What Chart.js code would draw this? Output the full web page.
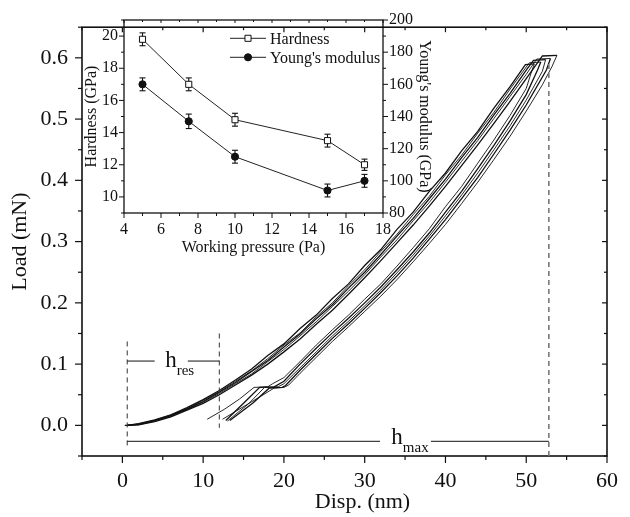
<!DOCTYPE html>
<html>
<head>
<meta charset="utf-8">
<script src="https://cdn.jsdelivr.net/npm/chart.js@4.4.0/dist/chart.umd.min.js"></script>
<style>
  html, body { margin: 0; padding: 0; background: #fff; }
  #wrap { position: relative; width: 630px; height: 517px; }
  #main { position: absolute; left: 0; top: 0; }
  #inset { position: absolute; left: 80px; top: 0; }
</style>
</head>
<body>
<div id="wrap">
  <canvas id="main" width="630" height="517"></canvas>
  <canvas id="inset" width="360" height="262"></canvas>
</div>
<script>
// Loading curves, [disp (nm), load (mN)]
var load1 = [[0.3,0],[0.6,0],[2,0.003],[4,0.009],[6,0.017],[8,0.029],[10,0.042],[12,0.057],[14,0.074],[16,0.092],[18,0.114],[20,0.133],[22,0.158],[24,0.180],[26,0.207],[28,0.231],[30,0.261],[32,0.287],[34,0.320],[36,0.348],[38,0.382],[40,0.412],[42,0.448],[44,0.480],[46,0.518],[48,0.553],[49.9,0.589],[51.0,0.590]];
var load2 = [[0.6,0],[2,0.002],[4,0.008],[6,0.017],[8,0.027],[10,0.041],[12,0.055],[14,0.072],[16,0.089],[18,0.109],[20,0.131],[22,0.151],[24,0.177],[26,0.200],[28,0.228],[30,0.254],[32,0.284],[34,0.312],[36,0.344],[38,0.374],[40,0.409],[42,0.441],[44,0.477],[46,0.511],[48,0.549],[50,0.585],[50.4,0.592],[51.8,0.593]];
var load3 = [[0.6,0],[2,0.002],[4,0.008],[6,0.016],[8,0.027],[10,0.039],[12,0.054],[14,0.070],[16,0.088],[18,0.106],[20,0.128],[22,0.149],[24,0.174],[26,0.197],[28,0.224],[30,0.250],[32,0.279],[34,0.309],[36,0.338],[38,0.370],[40,0.402],[42,0.437],[44,0.470],[46,0.507],[48,0.542],[50,0.580],[50.9,0.596],[52.4,0.597]];
var load4 = [[0.6,0],[2,0.001],[4,0.007],[6,0.015],[8,0.026],[10,0.038],[12,0.052],[14,0.068],[16,0.084],[18,0.104],[20,0.124],[22,0.146],[24,0.169],[26,0.194],[28,0.219],[30,0.246],[32,0.275],[34,0.303],[36,0.334],[38,0.364],[40,0.397],[42,0.431],[44,0.465],[46,0.501],[48,0.537],[50,0.573],[51.3,0.598],[53.0,0.599]];
var load5 = [[0.6,0],[2,0.001],[4,0.006],[6,0.014],[8,0.025],[10,0.036],[12,0.050],[14,0.066],[16,0.082],[18,0.100],[20,0.120],[22,0.141],[24,0.165],[26,0.188],[28,0.214],[30,0.241],[32,0.269],[34,0.298],[36,0.327],[38,0.358],[40,0.390],[42,0.424],[44,0.458],[46,0.493],[48,0.529],[50,0.566],[52,0.603],[53.8,0.604]];

// Unloading curves with the hold near 10 % load
var unload1 = [[51.0,0.590],[50.6,0.575],[50,0.550],[48,0.506],[46,0.466],[44,0.428],[42,0.390],[40,0.357],[38,0.321],[36,0.290],[34,0.260],[32,0.231],[30,0.206],[28,0.180],[26,0.156],[24,0.131],[22,0.104],[20,0.078],[18.6,0.068],[18.0,0.063],[16.3,0.062],[14.5,0.043],[12.6,0.026],[10.5,0.010]];
var unload2 = [[51.8,0.593],[51.4,0.580],[50,0.540],[48,0.497],[46,0.457],[44,0.419],[42,0.382],[40,0.348],[38,0.314],[36,0.283],[34,0.254],[32,0.226],[30,0.200],[28,0.175],[26,0.151],[24,0.126],[22,0.100],[20,0.072],[18.8,0.063],[17.0,0.062],[15.0,0.036],[12.8,0.008]];
var unload3 = [[52.4,0.597],[52,0.578],[50,0.531],[48,0.489],[46,0.450],[44,0.412],[42,0.376],[40,0.342],[38,0.309],[36,0.278],[34,0.249],[32,0.221],[30,0.195],[28,0.170],[26,0.146],[24,0.120],[22,0.094],[20,0.068],[19.3,0.063],[17.6,0.062],[15.6,0.035],[13.0,0.007]];
var unload4 = [[53.0,0.599],[52.5,0.580],[50,0.523],[48,0.482],[46,0.443],[44,0.405],[42,0.370],[40,0.336],[38,0.304],[36,0.273],[34,0.244],[32,0.217],[30,0.191],[28,0.166],[26,0.142],[24,0.116],[22,0.090],[20.2,0.065],[19.8,0.062],[18.2,0.061],[16.2,0.037],[13.3,0.008]];
var unload5 = [[53.8,0.604],[53.2,0.586],[52,0.556],[50,0.513],[48,0.472],[46,0.434],[44,0.397],[42,0.362],[40,0.328],[38,0.297],[36,0.267],[34,0.238],[32,0.211],[30,0.186],[28,0.161],[26,0.137],[24,0.111],[22,0.085],[20.6,0.066],[20.0,0.062],[18.8,0.061],[17.2,0.048],[12.4,0.010]];

// Depth markers (nm) and the load level of each bracket (mN)
var hResLimits = [0.6, 12.0];
var hMaxLimits = [0.6, 52.8];
var hResLevel = 0.105;
var hMaxLevel = -0.026;

// Main tick labels
var mainXLabels = [0, 10, 20, 30, 40, 50, 60];
var mainYLabels = [0.0, 0.1, 0.2, 0.3, 0.4, 0.5, 0.6];

// Inset data
var pressure = [5, 7.5, 10, 15, 17];
var hardness = [19.8, 17.0, 14.8, 13.5, 12.0];
var hardnessErr = [0.4, 0.4, 0.4, 0.4, 0.35];
var modulus = [160, 137, 115, 94, 100];
var modulusErr = [4, 4.5, 4, 4, 4];

// Inset tick labels
var insetXLabels = [4, 6, 8, 10, 12, 14, 16, 18];
var insetYLabels = [10, 12, 14, 16, 18, 20];
var insetY2Labels = [80, 100, 120, 140, 160, 180, 200];

var SERIF = "'Liberation Serif', 'Times New Roman', serif";
var INK = '#111';
Chart.defaults.font.family = SERIF;
Chart.defaults.color = INK;

function isLabelled(list, v) {
    return list.some(function(l) { return Math.abs(l - v) < 1e-6; });
}

function toPoints(arr) {
    return arr.map(function(p) { return {x: p[0], y: p[1]}; });
}

/**
 * Draw tick marks of a scale along one edge.
 * dx/dy give the direction the marks point to.
 */
function drawTicks(ctx, scale, list, edge, dx, dy, major, minor) {
    var horizontal = scale.isHorizontal();
    scale.ticks.forEach(function(t) {
        var len = isLabelled(list, t.value) ? major : minor;
        var p = scale.getPixelForValue(t.value);
        ctx.beginPath();
        if (horizontal) {
            ctx.moveTo(p, edge);
            ctx.lineTo(p, edge + dy * len);
        } else {
            ctx.moveTo(edge, p);
            ctx.lineTo(edge + dx * len, p);
        }
        ctx.stroke();
    });
}

function line(ctx, x1, y1, x2, y2) {
    ctx.beginPath();
    ctx.moveTo(x1, y1);
    ctx.lineTo(x2, y2);
    ctx.stroke();
}

function subLabel(ctx, x, y, main, sub) {
    ctx.font = '23px ' + SERIF;
    ctx.textAlign = 'left';
    ctx.textBaseline = 'alphabetic';
    ctx.fillText(main, x, y);
    var w = ctx.measureText(main).width;
    ctx.font = '15px ' + SERIF;
    ctx.fillText(sub, x + w, y + 8);
}

var mainDecor = {
    id: 'mainDecor',
    afterDraw: function(chart) {
        var ctx = chart.ctx;
        var a = chart.chartArea;
        var xs = chart.scales.x;
        var ys = chart.scales.y;
        var px = function(v) { return xs.getPixelForValue(v); };
        var py = function(v) { return ys.getPixelForValue(v); };
        ctx.save();
        ctx.strokeStyle = INK;
        ctx.fillStyle = INK;

        // Frame and ticks
        ctx.lineWidth = 1.6;
        ctx.strokeRect(a.left, a.top, a.right - a.left, a.bottom - a.top);
        ctx.lineWidth = 1.2;
        drawTicks(ctx, xs, mainXLabels, a.bottom, 0, 1, 7, 4);
        drawTicks(ctx, xs, mainXLabels, a.top, 0, 1, 5, 3);
        drawTicks(ctx, ys, mainYLabels, a.left, -1, 0, 7, 4);
        drawTicks(ctx, ys, mainYLabels, a.right, -1, 0, 5, 3);

        // Dashed depth markers
        ctx.lineWidth = 1;
        ctx.strokeStyle = '#333';
        ctx.setLineDash([5, 4]);
        line(ctx, px(hResLimits[0]), py(0.137), px(hResLimits[0]), py(-0.036));
        line(ctx, px(hResLimits[1]), py(0.15), px(hResLimits[1]), py(-0.004));
        ctx.strokeStyle = '#777';
        ctx.lineWidth = 1.6;
        line(ctx, px(hMaxLimits[1]), py(0.59), px(hMaxLimits[1]), py(-0.05));
        ctx.setLineDash([]);

        // Brackets with labels
        ctx.strokeStyle = INK;
        ctx.lineWidth = 1;
        line(ctx, px(hResLimits[0]), py(hResLevel), px(4.0), py(hResLevel));
        line(ctx, px(8.1), py(hResLevel), px(hResLimits[1]), py(hResLevel));
        line(ctx, px(hMaxLimits[0]), py(hMaxLevel), px(31.9), py(hMaxLevel));
        line(ctx, px(38.2), py(hMaxLevel), px(hMaxLimits[1]), py(hMaxLevel));
        subLabel(ctx, px(5.3), py(0.0956), 'h', 'res');
        subLabel(ctx, px(33.3), py(-0.0306), 'h', 'max');

        // x axis title
        ctx.font = '22px ' + SERIF;
        ctx.textAlign = 'center';
        ctx.textBaseline = 'middle';
        ctx.fillText('Disp. (nm)', (a.left + a.right) / 2 + 18, 502);
        ctx.restore();
    }
};

var mainDatasets = [load1, load2, load3, load4, load5, unload1, unload2, unload3, unload4, unload5].map(function(c, i) {
    return {
        data: toPoints(c),
        showLine: true,
        borderColor: INK,
        borderWidth: i % 2 ? 0.9 : 1.3,
        pointRadius: 0,
        tension: 0
    };
});

new Chart(document.getElementById('main'), {
    type: 'scatter',
    data: {datasets: mainDatasets},
    options: {
        responsive: false,
        animation: false,
        devicePixelRatio: 1,
        layout: {padding: {top: 20, right: 12, left: 0, bottom: 0}},
        plugins: {legend: {display: false}, tooltip: {enabled: false}},
        scales: {
            x: {
                type: 'linear', min: -5, max: 60,
                border: {display: false},
                grid: {display: false, drawTicks: false},
                ticks: {
                    stepSize: 5, autoSkip: false, maxRotation: 0, padding: 12,
                    font: {size: 22},
                    callback: function(v) { return isLabelled(mainXLabels, v) ? String(Math.round(v)) : ''; }
                },
                afterFit: function(s) { s.height = 61; }
            },
            y: {
                type: 'linear', min: -0.05, max: 0.65,
                border: {display: false},
                grid: {display: false, drawTicks: false},
                ticks: {
                    stepSize: 0.05, autoSkip: false, padding: 14,
                    font: {size: 22},
                    callback: function(v) { return isLabelled(mainYLabels, v) ? v.toFixed(1) : ''; }
                },
                title: {display: true, text: 'Load (mN)', font: {size: 22}, padding: {top: 7, bottom: 0}},
                afterFit: function(s) { s.width = 82; }
            }
        }
    },
    plugins: [mainDecor]
});

// Inset: error bars under the markers, then frame, ticks and legend
var insetDecor = {
    id: 'insetDecor',
    beforeDatasetsDraw: function(chart) {
        var ctx = chart.ctx;
        var xs = chart.scales.x;
        ctx.save();
        ctx.strokeStyle = INK;
        ctx.lineWidth = 1.1;
        [[hardness, hardnessErr, chart.scales.y], [modulus, modulusErr, chart.scales.y2]].forEach(function(s) {
            pressure.forEach(function(p, i) {
                var x = xs.getPixelForValue(p);
                var top = s[2].getPixelForValue(s[0][i] + s[1][i]);
                var bot = s[2].getPixelForValue(s[0][i] - s[1][i]);
                line(ctx, x, top, x, bot);
                line(ctx, x - 3, top, x + 3, top);
                line(ctx, x - 3, bot, x + 3, bot);
            });
        });
        ctx.restore();
    },
    afterDraw: function(chart) {
        var ctx = chart.ctx;
        var a = chart.chartArea;
        ctx.save();
        ctx.strokeStyle = INK;
        ctx.fillStyle = INK;
        ctx.lineWidth = 1.3;
        ctx.strokeRect(a.left, a.top, a.right - a.left, a.bottom - a.top);
        ctx.lineWidth = 1;
        drawTicks(ctx, chart.scales.x, insetXLabels, a.bottom, 0, 1, 5, 3);
        drawTicks(ctx, chart.scales.x, insetXLabels, a.top, 0, 1, 3, 2);
        drawTicks(ctx, chart.scales.y, insetYLabels, a.left, -1, 0, 5, 3);
        drawTicks(ctx, chart.scales.y2, insetY2Labels, a.right, 1, 0, 5, 3);

        // Legend
        var lx = a.left + 106;
        var rows = [a.top + 18.3, a.top + 37.3];
        chart.data.datasets.forEach(function(ds, i) {
            var y = rows[i];
            ctx.strokeStyle = ds.borderColor;
            ctx.lineWidth = 1;
            line(ctx, lx, y, lx + 36, y);
            ctx.fillStyle = ds.pointBackgroundColor;
            ctx.strokeStyle = ds.pointBorderColor;
            Chart.helpers.drawPoint(ctx, {pointStyle: ds.pointStyle, radius: ds.pointRadius, borderWidth: ds.pointBorderWidth}, lx + 18, y);
            ctx.fillStyle = INK;
            ctx.font = '16px ' + SERIF;
            ctx.textAlign = 'left';
            ctx.textBaseline = 'middle';
            ctx.fillText(ds.label, lx + 40, y + 1);
        });
        ctx.restore();
    }
};

function insetScale(min, max, step, list, position, pad) {
    return {
        type: 'linear', position: position, min: min, max: max,
        border: {display: false},
        grid: {display: false, drawTicks: false},
        ticks: {
            stepSize: step, autoSkip: false, maxRotation: 0, padding: pad,
            font: {size: 16},
            callback: function(v) { return isLabelled(list, v) ? String(Math.round(v)) : ''; }
        }
    };
}

var insetX = insetScale(4, 18, 1, insetXLabels, 'bottom', 7);
insetX.title = {display: true, text: 'Working pressure (Pa)', font: {size: 16}, padding: {top: 0, bottom: 5}};
insetX.afterFit = function(s) { s.height = 49; };

var insetY = insetScale(9, 21, 1, insetYLabels, 'left', 6);
insetY.title = {display: true, text: 'Hardness (GPa)', font: {size: 16}, padding: {top: 2, bottom: 0}};
insetY.afterFit = function(s) { s.width = 44; };

var insetY2 = insetScale(80, 200, 10, insetY2Labels, 'right', 6);
insetY2.title = {display: true, text: "Young's modulus (GPa)", font: {size: 16}, padding: {top: 6, bottom: 0}};
insetY2.afterFit = function(s) { s.width = 57; };

new Chart(document.getElementById('inset'), {
    type: 'scatter',
    data: {
        datasets: [{
            label: 'Hardness',
            data: pressure.map(function(p, i) { return {x: p, y: hardness[i]}; }),
            yAxisID: 'y',
            showLine: true,
            borderColor: '#222',
            borderWidth: 1,
            pointStyle: 'rect',
            pointRadius: 4.3,
            pointBackgroundColor: '#fff',
            pointBorderColor: INK,
            pointBorderWidth: 1
        }, {
            label: "Young's modulus",
            data: pressure.map(function(p, i) { return {x: p, y: modulus[i]}; }),
            yAxisID: 'y2',
            showLine: true,
            borderColor: '#222',
            borderWidth: 1,
            pointStyle: 'circle',
            pointRadius: 3.6,
            pointBackgroundColor: INK,
            pointBorderColor: INK,
            pointBorderWidth: 1
        }]
    },
    options: {
        responsive: false,
        animation: false,
        devicePixelRatio: 1,
        layout: {padding: {top: 20, right: 0, left: 0, bottom: 0}},
        plugins: {legend: {display: false}, tooltip: {enabled: false}},
        scales: {x: insetX, y: insetY, y2: insetY2}
    },
    plugins: [insetDecor]
});
</script>
</body>
</html>
